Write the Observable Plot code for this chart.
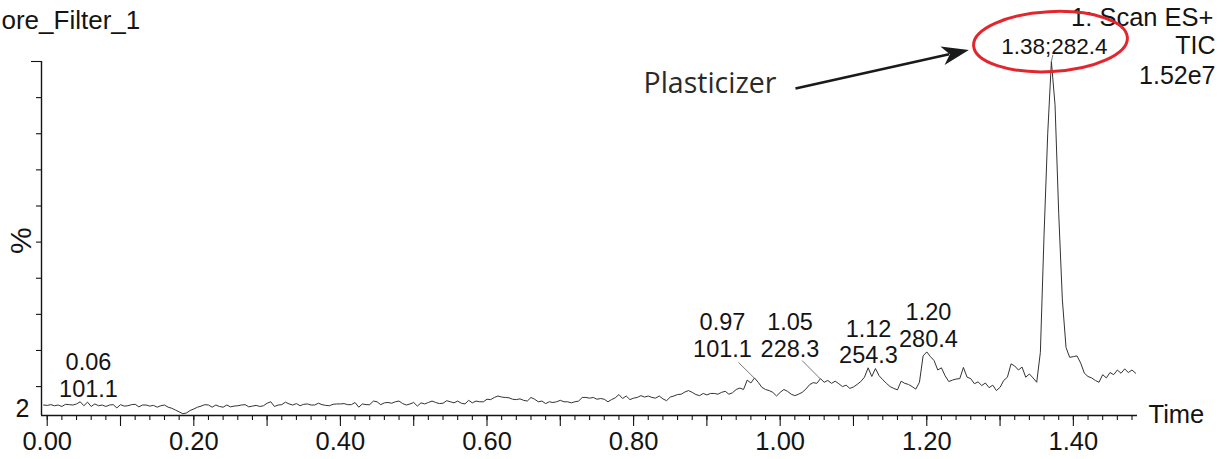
<!DOCTYPE html>
<html><head><meta charset="utf-8">
<script src="https://cdn.jsdelivr.net/npm/d3@7"></script>
<script src="https://cdn.jsdelivr.net/npm/@observablehq/plot@0.6"></script>
<style>html,body{margin:0;padding:0;background:#fff;}</style>
</head><body><div id="chart"></div>
<script>
// ---------- data ----------
const scanStart = -0.005;   // min
const scanStep = 0.005;     // min
const ticPercent = [
 4.9,
 4.8,5.0,4.7,4.9,4.5,5.1,5.0,4.9,5.2,5.8,
 4.7,5.7,4.5,5.2,4.7,4.9,4.5,4.9,5.0,4.1,
 5.0,4.6,4.7,5.0,5.1,4.4,4.9,4.9,4.6,4.8,
 4.3,4.7,4.9,4.3,4.0,3.5,3.0,2.5,2.7,3.4,
 3.8,4.3,4.6,5.0,4.9,4.3,4.9,4.5,4.3,4.9,
 4.4,4.6,4.7,4.9,5.0,4.4,4.6,4.8,4.5,4.7,
 5.4,5.8,4.5,4.9,5.0,5.7,5.2,4.9,5.3,4.7,
 5.1,5.2,4.9,4.9,5.4,5.0,4.8,4.7,5.1,5.2,
 5.2,5.3,5.0,5.0,5.6,4.3,5.2,5.0,5.0,6.0,
 5.8,5.0,5.5,5.6,5.4,5.8,6.0,5.3,4.9,5.2,
 5.6,4.6,5.5,5.2,5.6,6.0,5.6,5.3,5.4,6.1,
 5.8,5.5,6.0,5.4,5.2,6.2,5.5,6.0,5.8,5.8,
 6.5,6.4,7.0,7.4,7.1,7.0,6.9,6.5,6.4,6.6,
 6.2,6.0,7.0,6.5,5.8,6.0,5.3,5.8,5.6,5.8,
 6.2,5.8,5.8,5.5,5.8,6.0,7.0,7.0,6.8,7.0,
 6.5,6.7,6.5,5.8,6.4,6.9,7.8,6.7,7.4,6.4,
 6.8,7.0,7.5,7.1,7.4,7.0,6.8,7.4,6.6,6.1,
 7.1,7.4,7.8,7.9,8.5,8.9,8.4,7.8,7.5,8.1,
 7.7,8.1,8.1,7.9,8.4,8.7,7.9,8.3,9.2,9.6,
 9.2,11.8,11.0,12.4,11.2,9.8,9.2,8.9,8.4,7.4,
 8.4,9.2,8.7,7.9,7.5,7.9,8.4,9.3,10.5,11.1,
 10.9,12.2,11.2,11.7,10.9,11.5,10.8,10.0,10.4,9.5,
 9.9,10.6,11.4,12.6,15.2,12.8,15.0,13.0,11.9,10.9,
 10.0,9.5,9.1,11.5,10.9,10.6,10.0,9.3,11.2,18.5,
 19.6,18.3,17.2,14.6,15.2,13.0,11.4,11.8,12.1,12.2,
 15.3,12.6,12.2,10.8,11.3,10.3,11.0,9.7,10.4,8.9,
 9.8,11.7,12.6,16.3,15.7,14.6,15.4,12.6,13.5,12.4,
 11.2,19.5,52,80,100,88,58,34,20.8,18.1,
 18.3,18.5,16.5,13.7,12.8,12.4,11.7,11.2,13.3,12.4,
 13.9,13.3,14.6,13.7,14.9,13.9,14.6,13.7
];
const xTickValues = [0, 0.2, 0.4, 0.6, 0.8, 1.0, 1.2, 1.4];
const xTickLabels = ["0.00","0.20","0.40","0.60","0.80","1.00","1.20","1.40"];
const yTickValues = [10,20,30,40,50,60,70,80,90];
const peakTimeLabels = ["0.06","0.97","1.05","1.12","1.20"];
const peakMassLabels = ["101.1","101.1","228.3","254.3","280.4"];
const mainPeakLabel = "1.38;282.4";
const titleText = "ore_Filter_1";
const headerLines = ["1: Scan ES+", "TIC", "1.52e7"];
const annotationText = "Plasticizer";

// ---------- layout ----------
const W = 1231, H = 459;
const mL = 41, mR = 94, mT = 61, mB = 44;
const xDomain = [-0.0078, 1.4875];
const yDomain = [2, 100];
const labelAnchorX = [0.0563, 0.9213, 1.0134, 1.1205, 1.2023];
const labelAnchorY = [13.2, 24.3, 24.3, 22.5, 27.0];
const leaders = [
  {x1: 0.9431, y1: 16.7, x2: 0.9650, y2: 12.3},
  {x1: 1.0300, y1: 17.2, x2: 1.0550, y2: 12.1},
  {x1: 1.3700, y1: 100, x2: 1.3720, y2: 101.8}
];
const mainLabelPos = {x: 1.3742, y: 103.96};
const ringPos = {x: 1.3688, y: 105.5};
const arrowStart = {x: 1.0209, y: 92.5};
const arrowTip = {x: 1.2574, y: 103.2};

const trace = ticPercent.map((v, i) => ({time: +(scanStart + i * scanStep).toFixed(4), pct: v}));
const majorTicks = d3.range(0, 15).map(i => +(i * 0.1).toFixed(2));
const minorTicks = d3.range(0, 75).map(i => +(i * 0.02).toFixed(2));
const peaks = peakTimeLabels.map((t, i) => ({x: labelAnchorX[i], y: labelAnchorY[i], text: t + "\n" + peakMassLabels[i]}));

const sx = Plot.scale({x: {domain: xDomain, range: [mL, W - mR]}});
const sy = Plot.scale({y: {domain: yDomain, range: [H - mB, mT]}});
const pdx = sx.apply(arrowTip.x) - sx.apply(arrowStart.x);
const pdy = sy.apply(arrowTip.y) - sy.apply(arrowStart.y);
const arrowAngle = Math.atan2(pdy, pdx) * 180 / Math.PI + 90;
const headLen = 27;
const plen = Math.hypot(pdx, pdy);
const shaftEnd = {
  x: sx.invert(sx.apply(arrowStart.x) + pdx * (plen - headLen * 0.75) / plen),
  y: sy.invert(sy.apply(arrowStart.y) + pdy * (plen - headLen * 0.75) / plen)
};

const notchedHead = {
  draw(ctx, l, r) {
    ctx.moveTo(0, -l);
    ctx.lineTo(-r, 0);
    ctx.lineTo(0, -l * 0.28);
    ctx.lineTo(r, 0);
    ctx.closePath();
  }
};
const ring = (rx, ry) => ({
  draw(ctx) {
    const k = 0.5523;
    ctx.moveTo(rx, 0);
    ctx.bezierCurveTo(rx, ry * k, rx * k, ry, 0, ry);
    ctx.bezierCurveTo(-rx * k, ry, -rx, ry * k, -rx, 0);
    ctx.bezierCurveTo(-rx, -ry * k, -rx * k, -ry, 0, -ry);
    ctx.bezierCurveTo(rx * k, -ry, rx, -ry * k, rx, 0);
    ctx.closePath();
  }
});

const ink = "#141414";
const chart = Plot.plot({
  width: W, height: H,
  marginLeft: mL, marginRight: mR, marginTop: mT, marginBottom: mB,
  style: {fontFamily: "'Liberation Sans', Arial, sans-serif", background: "white", color: ink, overflow: "visible"},
  x: {domain: xDomain, label: null},
  y: {domain: yDomain, label: null},
  marks: [
    // axes
    Plot.axisX(minorTicks, {tickSize: 5, tickFormat: () => "", stroke: ink, strokeWidth: 1.1, label: null}),
    Plot.axisX(majorTicks, {tickSize: 11, tickFormat: () => "", stroke: ink, strokeWidth: 1.1, label: null}),
    Plot.axisX(xTickValues, {tickSize: 0, tickPadding: 16, fontSize: 25.5, fill: ink, label: null,
      tickFormat: d => xTickLabels[xTickValues.indexOf(d)]}),
    Plot.axisY(yTickValues, {tickSize: 5, tickFormat: () => "", stroke: ink, strokeWidth: 1.1, label: null}),
    Plot.axisY([100], {tickSize: 10, tickFormat: () => "", stroke: ink, strokeWidth: 1.1, label: null}),
    Plot.ruleX([xDomain[0]], {y1: yDomain[0], y2: yDomain[1], stroke: ink, strokeWidth: 1.4}),
    Plot.ruleY([yDomain[0]], {x1: xDomain[0], x2: xDomain[1], stroke: ink, strokeWidth: 1.4}),
    Plot.text(["2"], {x: xDomain[0], y: yDomain[0], textAnchor: "end", lineAnchor: "bottom", dx: -12, dy: 1, fontSize: 25, fill: ink}),
    Plot.text(["%"], {x: xDomain[0], y: 50.4, dx: -20, rotate: -90, lineAnchor: "middle", fontSize: 30, fill: ink}),
    Plot.text(["Time"], {x: xDomain[1], y: yDomain[0], dx: 11, dy: -1, textAnchor: "start", lineAnchor: "middle", fontSize: 25.5, fill: ink}),
    // trace
    Plot.line(trace, {x: "time", y: "pct", stroke: "#333", strokeWidth: 1}),
    // peak labels
    Plot.link(leaders, {x1: "x1", y1: "y1", x2: "x2", y2: "y2", stroke: "#555", strokeWidth: 0.8}),
    Plot.text(peaks, {x: "x", y: "y", text: "text", lineAnchor: "middle", lineHeight: 1.13, fontSize: 23.5, fill: ink}),
    Plot.text([mainPeakLabel], {x: mainLabelPos.x, y: mainLabelPos.y, lineAnchor: "middle", fontSize: 22.5, fill: ink}),
    // header texts
    Plot.text([titleText], {frameAnchor: "top-left", dx: -40, dy: -33, textAnchor: "start", lineAnchor: "bottom", fontSize: 26, fill: ink}),
    Plot.text([headerLines[0]], {frameAnchor: "top-right", dx: 76, dy: -36, textAnchor: "end", lineAnchor: "bottom", fontSize: 25.5, fill: ink}),
    Plot.text([headerLines[1]], {frameAnchor: "top-right", dx: 78, dy: -8, textAnchor: "end", lineAnchor: "bottom", fontSize: 25, fill: ink}),
    Plot.text([headerLines[2]], {frameAnchor: "top-right", dx: 78, dy: 22, textAnchor: "end", lineAnchor: "bottom", fontSize: 25, fill: ink}),
    // annotation
    Plot.text([annotationText], {x: arrowStart.x, y: arrowStart.y, dx: -152, dy: 4, textAnchor: "start", lineAnchor: "bottom",
      fontSize: 28.5, fontFamily: "'Open Sans', 'Noto Sans', sans-serif", fill: "#2a2a2a"}),
    Plot.link([0], {x1: arrowStart.x, y1: arrowStart.y, x2: shaftEnd.x, y2: shaftEnd.y, stroke: "#1a1a1a", strokeWidth: 2.6}),
    Plot.vector([0], {x: arrowTip.x, y: arrowTip.y, length: headLen, r: 9.5, rotate: arrowAngle, anchor: "end",
      shape: notchedHead, fill: "#1a1a1a", stroke: "none"}),
    Plot.dot([0], {x: ringPos.x, y: ringPos.y, r: 1, symbol: ring(77, 30), rotate: -3,
      stroke: "#e3262e", strokeWidth: 3, fill: "none"})
  ]
});
document.getElementById("chart").appendChild(chart);
</script>
</body></html>
